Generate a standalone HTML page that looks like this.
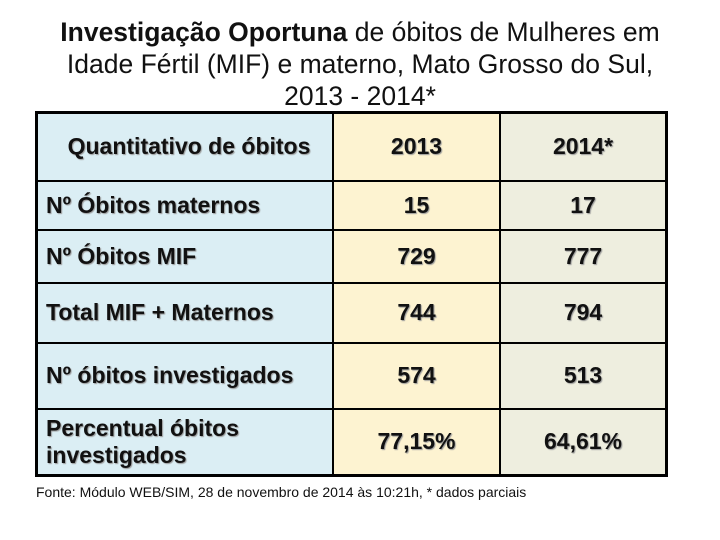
<!DOCTYPE html>
<html><head><meta charset="utf-8"><style>
body{margin:0;width:720px;height:540px;background:#fff;font-family:"Liberation Sans",sans-serif;position:relative;overflow:hidden}
.title{position:absolute;left:0;top:16px;width:720px;text-align:center;font-size:26.5px;line-height:32px;color:#111}
table{position:absolute;left:35px;top:111px;border-collapse:collapse;border:3px solid #000;table-layout:fixed}
td{border:2px solid #000;font-weight:bold;font-size:23px;line-height:27px;color:#111;text-shadow:1px 1px 1px #999;padding:0}
td.l{background:#dbeef4;width:286px;padding-left:8px;text-align:left}
td.a{background:#fdf3d1;width:165px;text-align:center}
td.b{background:#eeeedf;width:164px;text-align:center}
.note{position:absolute;left:36px;top:484px;font-size:14px;color:#111}
</style></head><body>
<div class="title"><b>Investigação Oportuna</b> de óbitos de Mulheres em<br>Idade Fértil (MIF) e materno, Mato Grosso do Sul,<br>2013 - 2014*</div>
<table>
<tr style="height:68px"><td class="l" style="text-align:center">Quantitativo de óbitos</td><td class="a">2013</td><td class="b">2014*</td></tr>
<tr style="height:49px"><td class="l">Nº Óbitos maternos</td><td class="a">15</td><td class="b">17</td></tr>
<tr style="height:53px"><td class="l">Nº Óbitos MIF</td><td class="a">729</td><td class="b">777</td></tr>
<tr style="height:60px"><td class="l">Total MIF + Maternos</td><td class="a">744</td><td class="b">794</td></tr>
<tr style="height:66px"><td class="l">Nº óbitos investigados</td><td class="a">574</td><td class="b">513</td></tr>
<tr style="height:67px"><td class="l">Percentual óbitos<br>investigados</td><td class="a">77,15%</td><td class="b">64,61%</td></tr>
</table>
<div class="note">Fonte: Módulo WEB/SIM, 28 de novembro de 2014 às 10:21h, * dados parciais</div>
</body></html>
